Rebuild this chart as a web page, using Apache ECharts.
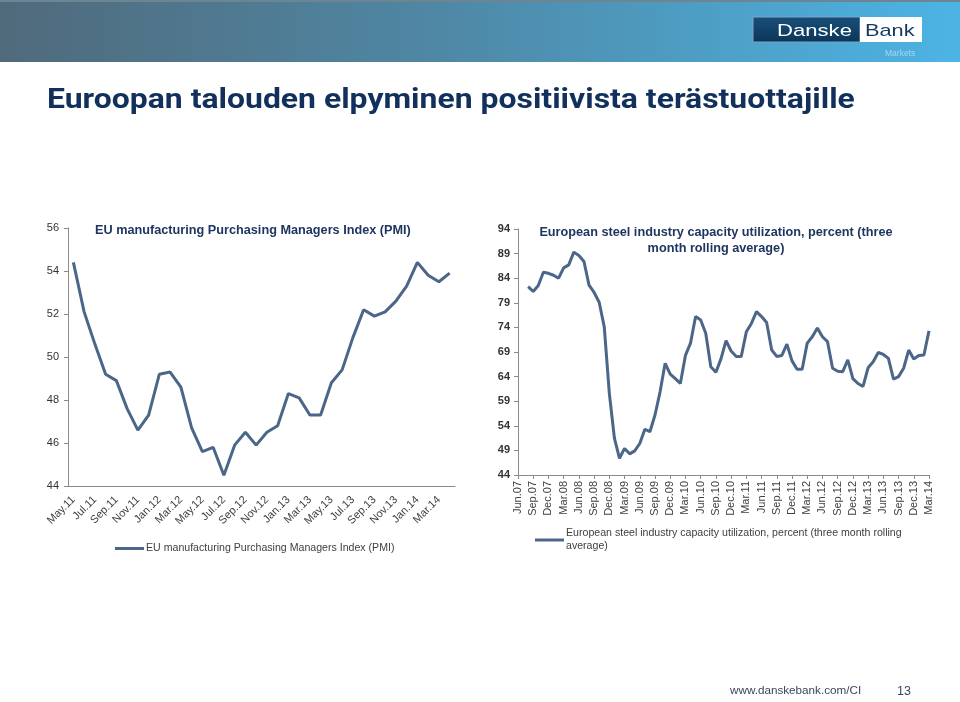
<!DOCTYPE html>
<html><head><meta charset="utf-8">
<script src="https://cdn.jsdelivr.net/npm/echarts@6/dist/echarts.min.js"></script>
<style>html,body{margin:0;padding:0;background:#fff}#c{width:960px;height:702px}</style>
</head><body><div id="c"></div>
<script>
const pmiMonths = ['May.11','Jun.11','Jul.11','Aug.11','Sep.11','Oct.11','Nov.11','Dec.11','Jan.12','Feb.12','Mar.12','Apr.12','May.12','Jun.12','Jul.12','Aug.12','Sep.12','Oct.12','Nov.12','Dec.12','Jan.13','Feb.13','Mar.13','Apr.13','May.13','Jun.13','Jul.13','Aug.13','Sep.13','Oct.13','Nov.13','Dec.13','Jan.14','Feb.14','Mar.14','Apr.14'];
const pmiValues = [54.4,52.1,50.6,49.2,48.9,47.6,46.6,47.3,49.2,49.3,48.6,46.7,45.6,45.8,44.5,45.9,46.5,45.9,46.5,46.8,48.3,48.1,47.3,47.3,48.8,49.4,50.9,52.2,51.9,52.1,52.6,53.3,54.4,53.8,53.5,53.9];
const steelMonths = ['Jun.07','Jul.07','Aug.07','Sep.07','Oct.07','Nov.07','Dec.07','Jan.08','Feb.08','Mar.08','Apr.08','May.08','Jun.08','Jul.08','Aug.08','Sep.08','Oct.08','Nov.08','Dec.08','Jan.09','Feb.09','Mar.09','Apr.09','May.09','Jun.09','Jul.09','Aug.09','Sep.09','Oct.09','Nov.09','Dec.09','Jan.10','Feb.10','Mar.10','Apr.10','May.10','Jun.10','Jul.10','Aug.10','Sep.10','Oct.10','Nov.10','Dec.10','Jan.11','Feb.11','Mar.11','Apr.11','May.11','Jun.11','Jul.11','Aug.11','Sep.11','Oct.11','Nov.11','Dec.11','Jan.12','Feb.12','Mar.12','Apr.12','May.12','Jun.12','Jul.12','Aug.12','Sep.12','Oct.12','Nov.12','Dec.12','Jan.13','Feb.13','Mar.13','Apr.13','May.13','Jun.13','Jul.13','Aug.13','Sep.13','Oct.13','Nov.13','Dec.13','Jan.14','Feb.14','Mar.14'];
// values from Aug.07 to Mar.14 (first two months have no three-month average)
const steelValues = [82.3,81.3,82.5,85.2,85.0,84.6,84.0,86.1,86.7,89.3,88.6,87.4,82.6,81.1,79.1,74.1,60.6,51.5,47.4,49.4,48.3,48.9,50.4,53.3,52.8,56.2,60.9,66.7,64.5,63.6,62.6,68.3,70.8,76.2,75.5,72.8,66.0,64.9,67.6,71.3,69.2,68.1,68.1,73.1,74.8,77.2,76.2,75.0,69.4,68.1,68.3,70.6,67.2,65.5,65.5,70.8,72.1,73.9,72.1,71.1,65.7,65.1,65.0,67.4,63.6,62.6,62.0,65.8,67.0,68.9,68.5,67.7,63.5,64.0,65.7,69.4,67.6,68.3,68.4,73.3];
const pmiName = 'EU manufacturing Purchasing Managers Index (PMI)';
const steelName = 'European steel industry capacity utilization, percent (three month rolling average)';
const steelTitle = 'European steel industry capacity utilization, percent (three\nmonth rolling average)';
const mainTitle = 'Euroopan talouden elpyminen positiivista terästuottajille';

const lineColor = '#4b6688';
const axisColor = '#8a8a8a';
const chart = echarts.init(document.getElementById('c'), null, {renderer:'canvas'});
const steelData = [null, null].concat(steelValues);

chart.setOption({
  animation: false,
  backgroundColor: '#fff',
  title: [
    {text: pmiName, left: 95, top: 224, padding: 0, textStyle: {fontFamily: 'Liberation Sans', fontWeight: 'bold', fontSize: 12.7, color: '#1f3660'}},
    {text: steelTitle, left: 716, top: 225, padding: 0, textAlign: 'center', textStyle: {fontFamily: 'Liberation Sans', fontWeight: 'bold', fontSize: 12.7, color: '#1f3660', lineHeight: 15.5, align: 'center'}}
  ],
  graphic: [
    {type: 'rect', x: 0, y: 0, shape: {width: 960, height: 62}, z: -1,
      style: {fill: new echarts.graphic.LinearGradient(0, 0, 1, 0, [{offset: 0, color: '#506a7b'}, {offset: 0.45, color: '#4f87a4'}, {offset: 1, color: '#4cb4e4'}])}},
    {type: 'rect', x: 0, y: 0, shape: {width: 960, height: 2}, style: {fill: '#6c8592'}},
    {type: 'rect', x: 753, y: 17, shape: {width: 107, height: 25},
      style: {fill: new echarts.graphic.LinearGradient(0, 0, 0, 1, [{offset: 0, color: '#1a4f7a'}, {offset: 1, color: '#0b3558'}]), stroke: '#7aa6c6', lineWidth: 1}},
    {type: 'rect', x: 860, y: 17, shape: {width: 62, height: 25}, style: {fill: '#ffffff'}},
    {type: 'text', x: 777, y: 23, scaleX: 1.3, style: {text: 'Danske', fontFamily: 'Liberation Sans', fontSize: 17, fill: '#ffffff', verticalAlign: 'top'}},
    {type: 'text', x: 865, y: 23, scaleX: 1.28, style: {text: 'Bank', fontFamily: 'Liberation Sans', fontSize: 17, fill: '#123a5e', verticalAlign: 'top'}},
    {type: 'text', x: 885, y: 49, style: {text: 'Markets', fontFamily: 'Liberation Sans', fontSize: 8.5, fill: '#a9d4ec', verticalAlign: 'top'}},
    {type: 'text', x: 47, y: 87, scaleX: 1.14, style: {text: mainTitle, fontFamily: 'Roboto', fontWeight: 'bold', fontSize: 28, fill: '#12305c', verticalAlign: 'top'}},
    {type: 'text', x: 730, y: 685, style: {text: 'www.danskebank.com/CI', fontFamily: 'Liberation Sans', fontSize: 11.7, fill: '#3a4660', verticalAlign: 'top'}},
    {type: 'text', x: 897, y: 685, style: {text: '13', fontFamily: 'Liberation Sans', fontSize: 12.5, fill: '#3a4660', verticalAlign: 'top'}}
  ],
  legend: [
    {data: [pmiName], left: 110, top: 538, icon: 'rect', itemWidth: 29, itemHeight: 3, itemGap: 0,
      textStyle: {fontFamily: 'Liberation Sans', fontSize: 10.6, color: '#404040', padding: [0,0,0,-3]}},
    {data: [steelName], left: 530, top: 522, icon: 'rect', itemWidth: 29, itemHeight: 3,
      textStyle: {fontFamily: 'Liberation Sans', fontSize: 10.6, color: '#404040', width: 345, overflow: 'break', lineHeight: 13, padding: [0,0,0,-3]}}
  ],
  grid: [
    {left: 68, top: 228, width: 387, height: 258},
    {left: 518, top: 229, width: 411, height: 246}
  ],
  xAxis: [
    {type: 'category', gridIndex: 0, data: pmiMonths, boundaryGap: true,
      axisLine: {lineStyle: {color: axisColor}}, axisTick: {interval: 1, length: 4, lineStyle: {color: axisColor}},
      axisLabel: {interval: 1, rotate: 45, fontFamily: 'Liberation Sans', fontSize: 11, color: '#404040', margin: 12}},
    {type: 'category', gridIndex: 1, data: steelMonths, boundaryGap: false,
      axisLine: {lineStyle: {color: axisColor}}, axisTick: {interval: 2, length: 4, lineStyle: {color: axisColor}},
      axisLabel: {interval: 2, rotate: 90, fontFamily: 'Liberation Sans', fontSize: 11, color: '#404040', margin: 6}}
  ],
  yAxis: [
    {type: 'value', gridIndex: 0, min: 44, max: 56, interval: 2,
      axisLine: {show: true, lineStyle: {color: axisColor}}, axisTick: {show: true, length: 4, lineStyle: {color: axisColor}},
      splitLine: {show: false},
      axisLabel: {fontFamily: 'Liberation Sans', fontSize: 11, color: '#333', margin: 9}},
    {type: 'value', gridIndex: 1, min: 44, max: 94, interval: 5,
      axisLine: {show: true, lineStyle: {color: axisColor}}, axisTick: {show: true, length: 4, lineStyle: {color: axisColor}},
      splitLine: {show: false},
      axisLabel: {fontFamily: 'Liberation Sans', fontSize: 11, fontWeight: 'bold', color: '#333', margin: 8}}
  ],
  series: [
    {name: pmiName, type: 'line', xAxisIndex: 0, yAxisIndex: 0, data: pmiValues, showSymbol: false, symbol: 'none',
      lineStyle: {color: lineColor, width: 3}, itemStyle: {color: lineColor}},
    {name: steelName, type: 'line', xAxisIndex: 1, yAxisIndex: 1, data: steelData, showSymbol: false, symbol: 'none',
      lineStyle: {color: lineColor, width: 3}, itemStyle: {color: lineColor}}
  ]
});
</script></body></html>
